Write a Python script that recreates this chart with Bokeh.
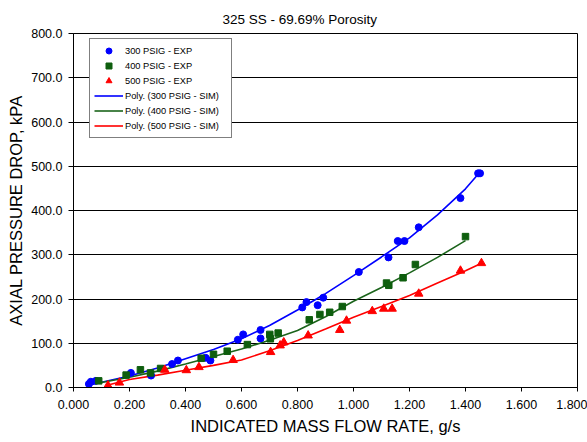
from bokeh.plotting import figure
from bokeh.models import Range1d, Legend, LegendItem, FixedTicker, NumeralTickFormatter
from bokeh.embed import file_html
from bokeh.resources import INLINE

# ---------------- data ----------------
x_ticks = [0.0, 0.2, 0.4, 0.6, 0.8, 1.0, 1.2, 1.4, 1.6, 1.8]
y_ticks = [0, 100, 200, 300, 400, 500, 600, 700, 800]

exp300_x = [0.055, 0.062, 0.080, 0.205, 0.277, 0.352, 0.373, 0.472, 0.489, 0.587, 0.606,
            0.668, 0.668, 0.817, 0.832, 0.872, 0.892, 1.019, 1.125, 1.158, 1.182, 1.233,
            1.382, 1.445, 1.452]
exp300_y = [8, 13, 15, 33, 27, 53, 61, 67, 61, 108, 120, 130, 111, 181, 193, 186, 203, 261,
            294, 331, 331, 362, 428, 484, 484]

exp400_x = [0.090, 0.188, 0.239, 0.275, 0.311, 0.456, 0.500, 0.549, 0.621, 0.701, 0.703,
            0.731, 0.842, 0.880, 0.915, 0.960, 1.118, 1.126, 1.177, 1.221, 1.400]
exp400_y = [15, 28, 40, 33, 43, 66, 75, 82, 97, 120, 110, 123, 153, 165, 170, 183, 236, 231,
            248, 278, 341]

exp500_x = [0.123, 0.164, 0.326, 0.403, 0.448, 0.570, 0.704, 0.738, 0.751, 0.838, 0.951,
            0.975, 1.067, 1.108, 1.138, 1.233, 1.382, 1.457]
exp500_y = [4.5, 11, 40, 39, 46, 62, 80, 95, 102, 117.5, 130, 151, 172.5, 178, 178, 212, 264, 281]

sim300_x = [0.055, 0.1, 0.2, 0.3, 0.4, 0.5, 0.6, 0.7, 0.8, 0.9, 1.0, 1.1, 1.2, 1.3, 1.4, 1.445]
sim300_y = [5, 12, 26, 44, 65, 86, 110, 140, 175, 212, 253, 295, 338, 390, 449, 482]

sim400_x = [0.09, 0.2, 0.3, 0.4, 0.5, 0.6, 0.7, 0.8, 0.9, 1.0, 1.1, 1.2, 1.3, 1.4]
sim400_y = [10, 23, 37, 53, 70, 87, 107, 129, 160, 195, 226, 259, 294, 332]

sim500_x = [0.12, 0.2, 0.3, 0.4, 0.5, 0.6, 0.7, 0.8, 0.9, 1.0, 1.1, 1.2, 1.3, 1.4, 1.457]
sim500_y = [5, 18, 28, 39, 50, 62, 83, 106, 132, 159, 183, 208, 236, 264, 281]

labels = ["300 PSIG - EXP", "400 PSIG - EXP", "500 PSIG - EXP",
          "Poly. (300 PSIG - SIM)", "Poly. (400 PSIG - SIM)", "Poly. (500 PSIG - SIM)"]

BLUE = "#0000FF"
GREEN = "#0E5E0E"
RED = "#FF0000"
FONT = "Liberation Sans"

p = figure(frame_width=504, frame_height=354, output_backend="svg", toolbar_location=None,
           x_range=Range1d(0, 1.8), y_range=Range1d(0, 800),
           min_border_left=73, min_border_right=10, min_border_top=33, min_border_bottom=55,
           background_fill_color="white", border_fill_color="white")

l300 = p.line(sim300_x, sim300_y, line_color=BLUE, line_width=1.6)
l400 = p.line(sim400_x, sim400_y, line_color="#1B641B", line_width=1.6)
l500 = p.line(sim500_x, sim500_y, line_color=RED, line_width=1.6)

s300 = p.scatter(exp300_x, exp300_y, marker="circle", size=7, fill_color=BLUE, line_color=BLUE)
s400 = p.scatter(exp400_x, exp400_y, marker="square", size=6.5, fill_color=GREEN, line_color=GREEN)
s500 = p.scatter(exp500_x, exp500_y, marker="triangle", size=8.5, fill_color=RED, line_color=RED)

# title
p.title.text = "325 SS - 69.69% Porosity"
p.title.text_font = FONT
p.title.text_font_size = "13.5px"
p.title.text_font_style = "normal"
p.title.align = "left"
p.title.offset = 149
p.title.standoff = 13
p.title.text_color = "black"

# axes
for ax in (p.xaxis[0], p.yaxis[0]):
    ax.axis_line_color = "black"
    ax.major_tick_line_color = "black"
    ax.minor_tick_line_color = None
    ax.major_tick_in = 0
    ax.major_label_text_font = FONT
    ax.major_label_text_font_size = "12.5px"
    ax.major_label_text_color = "black"
    ax.axis_label_text_font = FONT
    ax.axis_label_text_font_size = "16.5px"
    ax.axis_label_text_font_style = "normal"
    ax.axis_label_text_color = "black"

p.xaxis.ticker = FixedTicker(ticks=x_ticks)
p.yaxis.ticker = FixedTicker(ticks=y_ticks)
p.xaxis.formatter = NumeralTickFormatter(format="0.000")
p.yaxis.formatter = NumeralTickFormatter(format="0.0")
p.xaxis.axis_label = "INDICATED MASS FLOW RATE, g/s"
p.yaxis.axis_label = "AXIAL PRESSURE DROP, kPA"
p.xaxis.major_tick_out = 4
p.yaxis.major_tick_out = 5
p.xaxis.major_label_standoff = 8
p.yaxis.major_label_standoff = 6
p.xaxis.axis_label_standoff = 5
p.yaxis.axis_label_standoff = 3

p.xgrid.visible = False
p.ygrid.grid_line_color = "black"
p.ygrid.grid_line_width = 1
p.outline_line_color = "black"
p.outline_line_width = 1

legend = Legend(items=[
    LegendItem(label=labels[0], renderers=[s300]),
    LegendItem(label=labels[1], renderers=[s400]),
    LegendItem(label=labels[2], renderers=[s500]),
    LegendItem(label=labels[3], renderers=[l300]),
    LegendItem(label=labels[4], renderers=[l400]),
    LegendItem(label=labels[5], renderers=[l500]),
], location=(16, 249))
legend.label_text_font = FONT
legend.label_text_font_size = "9.3px"
legend.label_text_color = "black"
legend.glyph_width = 29
legend.glyph_height = 15
legend.label_height = 15
legend.label_width = 102
legend.label_standoff = 2
legend.spacing = 0
legend.padding = 4
legend.margin = 0
legend.border_line_color = "black"
legend.border_line_width = 1
legend.background_fill_color = "white"
legend.background_fill_alpha = 1
p.add_layout(legend)

open("out.html", "w").write(file_html(p, INLINE))
